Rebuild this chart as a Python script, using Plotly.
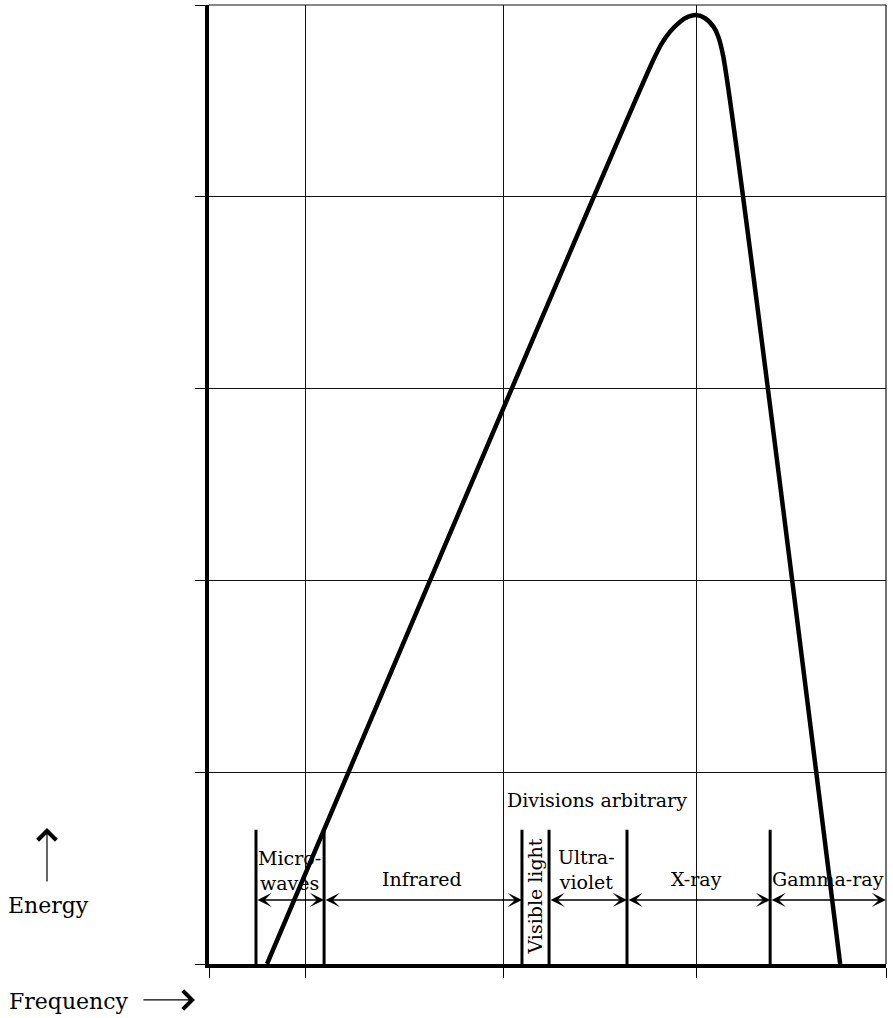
import plotly.graph_objects as go

# ---- data (arbitrary units) ----
curve_x = [0.300, 2.297, 2.341, 2.384, 2.436, 2.478, 2.518, 2.565, 2.608, 2.633, 2.659, 3.263]
curve_y = [0.0, 4.713, 4.800, 4.861, 4.913, 4.939, 4.948, 4.931, 4.887, 4.835, 4.730, 0.0]

x_grid = [0.0, 0.5, 1.52, 2.52, 3.5]
y_grid = [0, 1, 2, 3, 4, 5]

band_edges = [0.243, 0.595, 1.618, 1.758, 2.161, 2.901]
band_top = 0.70
band_end = 3.5
arrow_level = 0.334

arrow_spans = [(0.243, 0.595), (0.595, 1.618), (1.758, 2.161), (2.161, 2.901), (2.901, 3.5)]

label_text = ["Micro-<br>waves", "Infrared", "Ultra-<br>violet", "X-ray", "Gamma-ray", "Divisions arbitrary"]
label_x = [0.414, 1.101, 1.950, 2.518, 3.200, 2.006]
label_y = [0.490, 0.443, 0.492, 0.443, 0.443, 0.855]

vis_text = "Visible light"
vis_x = 1.688
vis_y = 0.349

FONT = "DejaVu Serif"

fig = go.Figure()

fig.add_trace(go.Scatter(
    x=curve_x, y=curve_y, mode="lines",
    line=dict(color="black", width=4.5, shape="spline", smoothing=0.8),
    hoverinfo="skip", showlegend=False))

bx, by = [], []
for e in band_edges:
    bx += [e, e, None]
    by += [0, band_top, None]
fig.add_trace(go.Scatter(
    x=bx, y=by, mode="lines",
    line=dict(color="black", width=3),
    hoverinfo="skip", showlegend=False))

annotations = []
for a, b in arrow_spans:
    annotations.append(dict(
        x=b, y=arrow_level, ax=a, ay=arrow_level,
        xref="x", yref="y", axref="x", ayref="y",
        text="", showarrow=True, arrowside="end+start",
        arrowhead=3, startarrowhead=3, arrowsize=1.7, startarrowsize=1.7,
        arrowwidth=1.4, arrowcolor="black"))

for t, x, y in zip(label_text, label_x, label_y):
    annotations.append(dict(
        x=x, y=y, xref="x", yref="y", text=t, showarrow=False,
        xanchor="center", yanchor="middle", align="center", borderpad=0,
        font=dict(family=FONT, size=19, color="black")))

annotations.append(dict(
    x=vis_x, y=vis_y, xref="x", yref="y", text=vis_text, showarrow=False,
    textangle=-90, xanchor="center", yanchor="middle",
    font=dict(family=FONT, size=19, color="black")))

# outside axis captions
annotations.append(dict(
    x=-0.2378, y=0.0615, xref="paper", yref="paper", text="Energy",
    showarrow=False, xanchor="center", yanchor="middle",
    font=dict(family=FONT, size=22, color="black")))
annotations.append(dict(
    x=-0.2393, y=0.1418, xref="paper", yref="paper", text="",
    showarrow=True, ax=0, ay=55, axref="pixel", ayref="pixel",
    arrowhead=4, arrowsize=3, arrowwidth=1.2, arrowcolor="black"))
annotations.append(dict(
    x=-0.2075, y=-0.0396, xref="paper", yref="paper", text="Frequency",
    showarrow=False, xanchor="center", yanchor="middle",
    font=dict(family=FONT, size=22, color="black")))
annotations.append(dict(
    x=-0.0207, y=-0.0375, xref="paper", yref="paper", text="",
    showarrow=True, ax=-53, ay=0, axref="pixel", ayref="pixel",
    arrowhead=4, arrowsize=3, arrowwidth=1.2, arrowcolor="black"))

# thin top / right frame lines
shapes = [
    dict(type="line", xref="paper", yref="paper", x0=0, x1=1, y0=1, y1=1,
         line=dict(color="#111", width=1.2)),
    dict(type="line", xref="paper", yref="paper", x0=1, x1=1, y0=0, y1=1,
         line=dict(color="#111", width=1.2)),
]

fig.update_layout(
    width=893, height=1018,
    margin=dict(l=209, r=7, t=5, b=54),
    paper_bgcolor="white", plot_bgcolor="white",
    showlegend=False,
    annotations=annotations,
    shapes=shapes,
    xaxis=dict(range=[0, 3.5], tickmode="array", tickvals=x_grid,
               showticklabels=False, ticks="outside", ticklen=10,
               tickcolor="black", tickwidth=1.2,
               showgrid=True, gridcolor="#111", gridwidth=1.2,
               showline=True, linecolor="black", linewidth=3.5,
               zeroline=False, fixedrange=True),
    yaxis=dict(range=[0, 5], tickmode="array", tickvals=y_grid,
               showticklabels=False, ticks="outside", ticklen=10,
               tickcolor="black", tickwidth=1.2,
               showgrid=True, gridcolor="#111", gridwidth=1.2,
               showline=True, linecolor="black", linewidth=4,
               zeroline=False, fixedrange=True),
)

fig.write_html(
    "out.html",
    config={"displayModeBar": False},
    post_script="document.body.style.margin='0';document.body.style.overflow='hidden';",
)
